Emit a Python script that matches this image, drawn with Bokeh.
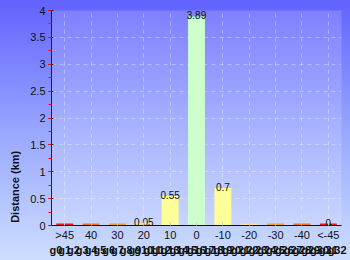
import numpy as np
from bokeh.plotting import figure
from bokeh.models import (ColumnDataSource, FactorRange, Range1d, SingleIntervalTicker,
                          FixedTicker, LinearAxis, CategoricalAxis)
from bokeh.core.properties import value
from bokeh.embed import file_html
from bokeh.resources import INLINE

categories = [">45", "40", "30", "20", "10", "0", "-10", "-20", "-30", "-40", "<-45"]
distances = [0.0, 0.0, 0.0, 0.05, 0.55, 3.89, 0.7, 0.0, 0.0, 0.0, 0.0]
bar_labels = ["", "", "", "0.05", "0.55", "3.89", "0.7", "", "", "", "0"]
bar_colors = ["#ff1010", "#f07020", "#e8a030", "#ffe0a0", "#ffff99", "#ccffcc",
              "#ffff99", "#ffe0a0", "#f0a020", "#f07020", "#ff1010"]
y_ticks = [0, 0.5, 1, 1.5, 2, 2.5, 3, 3.5, 4]
y_tick_labels = ["0", "0.5", "1", "1.5", "2", "2.5", "3", "3.5", "4"]
group_names = ["Uphill", "Flat", "Downhill"]
group_slot = [4, 16, 29]          # slots on a 3-per-category label strip
y_title = "Distance (km)"
y_title_at = 0.72

FONT = "Liberation Sans"

# minimum visible height for zero-valued bars
shown = np.maximum(np.array(distances), 0.035)

src = ColumnDataSource(dict(cat=categories, top=shown, lab=bar_labels,
                            col=bar_colors, dist=distances))

p = figure(width=350, height=260, output_backend="svg", toolbar_location=None,
           x_range=FactorRange(*categories, range_padding=0),
           y_range=Range1d(0, 4),
           min_border_left=51, min_border_right=9, min_border_top=10,
           min_border_bottom=35)

slots = ["g%d" % i for i in range(3 * len(categories))]
p.extra_x_ranges = {"grp": FactorRange(*slots, range_padding=0)}

p.styles = {"background": "linear-gradient(180deg, #6262ff 0%, #98a6ff 50%, #cddeff 100%)"}
p.border_fill_color = None
p.background_fill_color = "white"
p.background_fill_alpha = 0.16
p.outline_line_color = None

p.vbar(x="cat", top="top", width=0.64, fill_color="col", line_color=None, source=src)
p.text(x="cat", y="top", text="lab", source=src, text_align="center",
       text_baseline="alphabetic", y_offset=-1,
       text_font=value(FONT), text_font_size="10px", text_color="#111111")

# grids
p.xgrid.grid_line_color = "white"
p.xgrid.grid_line_alpha = 0.35
p.xgrid.grid_line_dash = "4 4"
p.ygrid.grid_line_color = "white"
p.ygrid.grid_line_alpha = 0.35
p.ygrid.grid_line_dash = "4 4"

# y axis
p.yaxis.ticker = SingleIntervalTicker(interval=0.5, num_minor_ticks=2)
p.yaxis.major_label_overrides = {t: l for t, l in zip(y_ticks, y_tick_labels)}
p.yaxis.axis_line_color = "#222222"
p.yaxis.major_tick_line_color = "#222222"
p.yaxis.major_tick_in = 2
p.yaxis.major_tick_out = 3
p.yaxis.minor_tick_line_color = "red"
p.yaxis.minor_tick_in = 0
p.yaxis.minor_tick_out = 3
p.yaxis.major_label_text_font = FONT
p.yaxis.major_label_text_font_size = "11px"
p.yaxis.major_label_text_color = "#111111"
p.yaxis.major_label_standoff = 3

# y title as an outer axis label
ytitle_axis = LinearAxis(ticker=FixedTicker(ticks=[y_title_at]),
                         major_label_overrides={y_title_at: y_title},
                         major_label_orientation="vertical",
                         axis_line_color=None, major_tick_line_color=None,
                         minor_tick_line_color=None, major_label_standoff=0,
                         major_label_text_font=FONT, major_label_text_font_size="11px",
                         major_label_text_font_style="bold",
                         major_label_text_color="#111111")
p.add_layout(ytitle_axis, "left")

# x axis
p.xaxis.axis_line_color = "#111111"
p.xaxis.major_tick_in = 3
p.xaxis.major_tick_out = 0
p.xaxis.major_tick_line_color = "#c0c8f0"
p.xaxis.major_label_text_font = FONT
p.xaxis.major_label_text_font_size = "11px"
p.xaxis.major_label_text_color = "#111111"
p.xaxis.major_label_standoff = 3

# group labels as a second categorical axis below
overrides = {s: " " for s in slots}
for name, k in zip(group_names, group_slot):
    overrides[slots[k]] = name
grp_axis = CategoricalAxis(x_range_name="grp", major_label_overrides=overrides,
                           axis_line_color=None, major_tick_line_color=None,
                           minor_tick_line_color=None, major_label_standoff=0,
                           major_tick_in=0, major_tick_out=0,
                           major_label_text_font=FONT, major_label_text_font_size="11px",
                           major_label_text_font_style="bold",
                           major_label_text_color="#111111")
p.add_layout(grp_axis, "below")

open("out.html", "w").write(file_html(p, INLINE))
